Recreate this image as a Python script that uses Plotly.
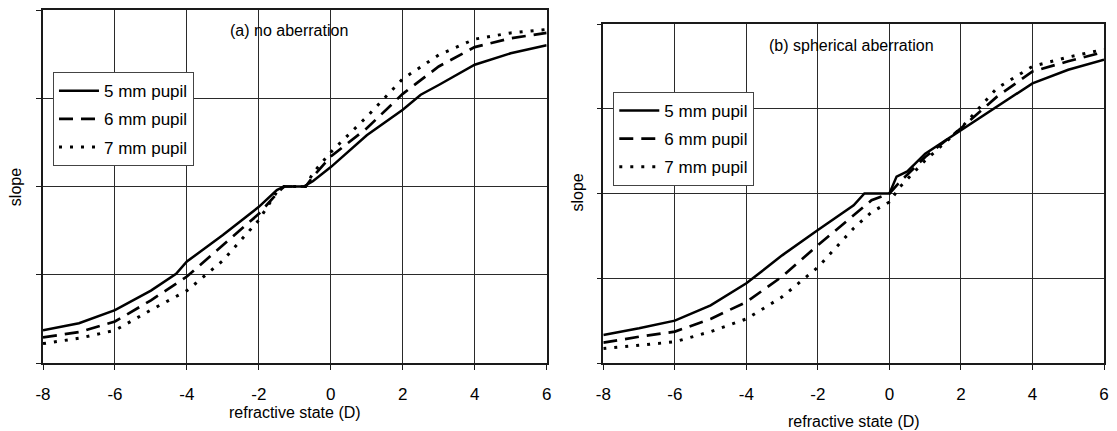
import plotly.graph_objects as go

# ---------------- data (grid units) ----------------
x_a_solid = [-8, -7, -6, -5, -4.3, -4, -3, -2, -1.5, -1.3, -0.75, -0.5, 0, 1, 2, 2.5, 3, 4, 5, 6]
y_a_solid = [0.37, 0.45, 0.60, 0.82, 1.01, 1.15, 1.45, 1.77, 1.96, 2.0, 2.0, 2.06, 2.22, 2.58, 2.87, 3.04, 3.15, 3.38, 3.51, 3.60]

x_a_dash = [-8, -7, -6, -5, -4, -3, -2, -1.5, -1.3, -0.7, -0.5, 0, 1, 2, 3, 4, 5, 6]
y_a_dash = [0.29, 0.35, 0.47, 0.71, 0.98, 1.33, 1.69, 1.92, 2.0, 2.0, 2.11, 2.34, 2.66, 3.05, 3.36, 3.58, 3.68, 3.74]

x_a_dot = [-8, -7, -6, -5, -4, -3, -2, -1.5, -1.3, -0.7, -0.5, 0, 1, 2, 3, 4, 5, 6]
y_a_dot = [0.22, 0.28, 0.37, 0.60, 0.82, 1.16, 1.62, 1.94, 2.0, 2.0, 2.15, 2.39, 2.79, 3.22, 3.49, 3.67, 3.74, 3.78]

x_b_solid = [-8, -7, -6, -5, -4, -3, -2, -1, -0.7, 0, 0.2, 0.5, 1, 2, 3, 4, 5, 6]
y_b_solid = [0.33, 0.41, 0.50, 0.68, 0.94, 1.27, 1.57, 1.86, 2.0, 2.0, 2.20, 2.26, 2.47, 2.75, 3.03, 3.30, 3.46, 3.58]

x_b_dash = [-8, -7, -6, -5, -4, -3, -2, -1, -0.5, 0, 0.3, 1, 2, 3, 4, 5, 6]
y_b_dash = [0.24, 0.31, 0.37, 0.52, 0.72, 1.02, 1.39, 1.74, 1.92, 2.0, 2.14, 2.43, 2.77, 3.14, 3.44, 3.56, 3.67]

x_b_dot = [-8, -7, -6, -5, -4, -3, -2, -1, -0.5, 0, 0.3, 1, 2, 3, 4, 5, 6]
y_b_dot = [0.17, 0.21, 0.25, 0.37, 0.52, 0.78, 1.13, 1.59, 1.78, 1.90, 2.08, 2.39, 2.77, 3.24, 3.50, 3.61, 3.70]

series_names = ["5 mm pupil", "6 mm pupil", "7 mm pupil"]
x_ticks = [-8, -6, -4, -2, 0, 2, 4, 6]
panel_titles = ["(a) no aberration", "(b) spherical aberration"]
x_title = "refractive state (D)"
y_title = "slope"

# ---------------- figure ----------------
FONT = "Liberation Sans, Arial, sans-serif"
dashes = ["solid", "14px,8px", "3px,8px"]
widths = [2.5, 2.7, 3.0]

fig = go.Figure()
panels = [
    ([x_a_solid, x_a_dash, x_a_dot], [y_a_solid, y_a_dash, y_a_dot], "x", "y", "legend"),
    ([x_b_solid, x_b_dash, x_b_dot], [y_b_solid, y_b_dash, y_b_dot], "x2", "y2", "legend2"),
]
for xs, ys, xa, ya, lg in panels:
    for i in range(3):
        fig.add_trace(go.Scatter(
            x=xs[i], y=ys[i], mode="lines", name=series_names[i],
            xaxis=xa, yaxis=ya, legend=lg, legendgroup=f"{lg}{i}",
            line=dict(color="black", width=widths[i], dash=dashes[i]),
        ))

axis_common = dict(
    showline=True, mirror=True, linecolor="#1a1a1a", linewidth=1.6,
    showgrid=True, gridcolor="#2a2a2a", gridwidth=1.2,
    ticks="outside", ticklen=5, tickcolor="#1a1a1a",
    zeroline=False,
)
xcommon = dict(axis_common, range=[-8, 6], tickvals=x_ticks,
               ticktext=[str(v) for v in x_ticks],
               tickfont=dict(family=FONT, size=17, color="black"),
               ticklabelstandoff=10)
ycommon = dict(axis_common, range=[0, 4], dtick=1, showticklabels=False)

legend_common = dict(
    bgcolor="white", bordercolor="#444", borderwidth=1,
    font=dict(family=FONT, size=17, color="black"),
    xanchor="left", yanchor="top", traceorder="grouped",
    tracegroupgap=3, itemwidth=40,
)

fig.update_layout(
    width=1117, height=431,
    margin=dict(l=43, r=8, t=10, b=68),
    paper_bgcolor="white", plot_bgcolor="white",
    showlegend=True,
    xaxis=dict(xcommon, domain=[0, 0.4747], anchor="y"),
    yaxis=dict(ycommon, domain=[0, 1], anchor="x"),
    xaxis2=dict(xcommon, domain=[0.5281, 1], anchor="y2"),
    yaxis2=dict(ycommon, domain=[0, 0.9603], anchor="x2"),
    legend=dict(legend_common, x=0.0094, y=0.824),
    legend2=dict(legend_common, x=0.5375, y=0.768),
)

ann_font = dict(family=FONT, size=16, color="black")
annotations = [
    dict(text=panel_titles[0], x=0.2317, y=0.943),
    dict(text=panel_titles[1], x=0.7617, y=0.9008),
    dict(text=x_title, x=0.2373, y=-0.1416),
    dict(text=x_title, x=0.7641, y=-0.167),
    dict(text=y_title, x=-0.0253, y=0.4986, textangle=-90),
    dict(text=y_title, x=0.5038, y=0.4816, textangle=-90),
]
for a in annotations:
    fig.add_annotation(xref="paper", yref="paper", showarrow=False,
                       xanchor="center", yanchor="middle", font=ann_font, **a)

fig.write_html("out.html")
